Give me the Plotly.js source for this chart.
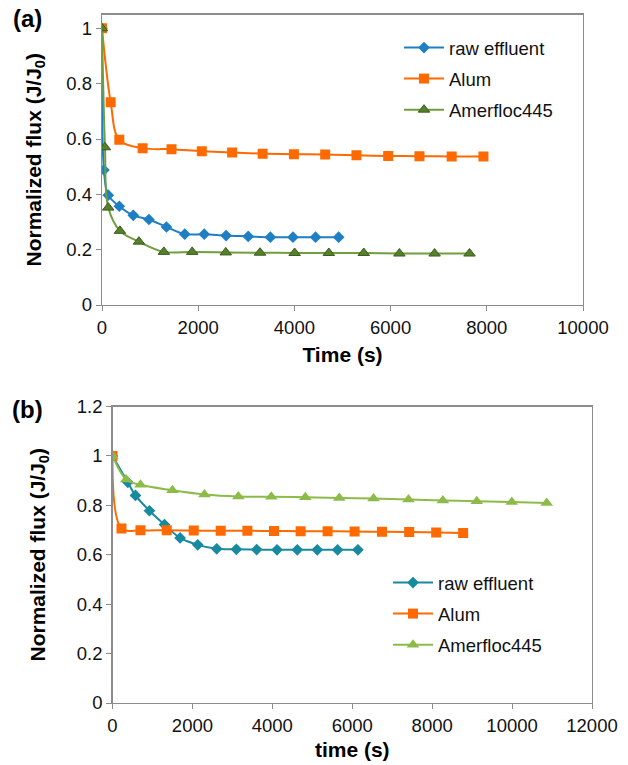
<!DOCTYPE html>
<html>
<head>
<meta charset="utf-8">
<script src="https://cdn.plot.ly/plotly-3.0.1.min.js"></script>
<style>html,body{margin:0;padding:0;background:#fff}#chart{width:628px;height:765px}</style>
</head>
<body>
<div id="chart"></div>
<script>
// Panel (a)
const timeA_raw = [0, 41, 130, 360, 650, 975, 1340, 1720, 2125, 2580, 3040, 3500, 3970, 4440, 4920];
const fluxA_raw = [1, 0.488, 0.397, 0.357, 0.324, 0.309, 0.282, 0.256, 0.256, 0.251, 0.248, 0.245, 0.245, 0.245, 0.245];
const timeA_alum = [0, 180, 360, 845, 1445, 2075, 2705, 3340, 3990, 4640, 5290, 5950, 6600, 7270, 7930];
const fluxA_alum = [1, 0.733, 0.597, 0.567, 0.563, 0.556, 0.551, 0.547, 0.545, 0.544, 0.541, 0.539, 0.538, 0.537, 0.537];
const timeA_amer = [0, 62, 130, 373, 768, 1286, 1875, 2573, 3285, 4005, 4716, 5442, 6183, 6915, 7641];
const fluxA_amer = [1, 0.570, 0.352, 0.268, 0.229, 0.192, 0.192, 0.190, 0.189, 0.188, 0.188, 0.188, 0.186, 0.186, 0.186];
// Panel (b)
const timeB_raw = [0, 383, 575, 925, 1300, 1692, 2133, 2608, 3100, 3608, 4117, 4625, 5125, 5633, 6142];
const fluxB_raw = [1, 0.893, 0.840, 0.778, 0.722, 0.668, 0.640, 0.624, 0.622, 0.621, 0.620, 0.620, 0.620, 0.620, 0.620];
const timeB_alum = [0, 225, 700, 1358, 2033, 2708, 3375, 4042, 4708, 5383, 6058, 6745, 7425, 8100, 8775];
const fluxB_alum = [1, 0.706, 0.699, 0.699, 0.698, 0.697, 0.697, 0.696, 0.695, 0.695, 0.694, 0.693, 0.692, 0.690, 0.688];
const timeB_amer = [0, 342, 700, 1500, 2300, 3150, 3975, 4825, 5675, 6533, 7408, 8267, 9117, 9992, 10867];
const fluxB_amer = [1, 0.905, 0.883, 0.861, 0.844, 0.836, 0.835, 0.833, 0.830, 0.828, 0.824, 0.820, 0.817, 0.813, 0.809];

const seriesNames = ['raw effluent', 'Alum', 'Amerfloc445'];
const panelLabels = ['(a)', '(b)'];
const xTitles = ['Time (s)', 'time (s)'];
const yTitle = 'Normalized flux (J/J<sub>0</sub>)';
const yTickVals = [0, 0.2, 0.4, 0.6, 0.8, 1, 1.2];
const yTickText = ['0', '0.2', '0.4', '0.6', '0.8', '1', '1.2'];

const FONT = 'Liberation Sans, Arial, sans-serif';
const AX = '#8c8c8c';
const TICKSIZE = 18.5;

function tr(x, y, name, color, sym, size, xa, ya, leg, mcolor, mline) {
  return {
    x: x, y: y, name: name, type: 'scatter', mode: 'lines+markers',
    xaxis: xa, yaxis: ya, legend: leg, legendgroup: leg + name,
    line: {color: color, width: 2, shape: 'spline', smoothing: 1},
    marker: {symbol: sym, size: size, color: mcolor || color,
             line: {color: mline || (mcolor || color), width: mline ? 1 : 0}}
  };
}

const data = [
  tr(timeA_raw, fluxA_raw, seriesNames[0], '#1f7fc4', 'diamond', 9, 'x', 'y', 'legend'),
  tr(timeA_alum, fluxA_alum, seriesNames[1], '#ff6a00', 'square', 10, 'x', 'y', 'legend'),
  tr(timeA_amer, fluxA_amer, seriesNames[2], '#6f9e3c', 'triangle-up', 10, 'x', 'y', 'legend', '#55812b', '#3b5c1c'),
  tr(timeB_raw, fluxB_raw, seriesNames[0], '#178a9f', 'diamond', 9, 'x2', 'y2', 'legend2'),
  tr(timeB_alum, fluxB_alum, seriesNames[1], '#ff6a00', 'square', 10, 'x2', 'y2', 'legend2'),
  tr(timeB_amer, fluxB_amer, seriesNames[2], '#8dbb4a', 'triangle-up', 11, 'x2', 'y2', 'legend2')
];

function xax(anchor, domain, range, title, standoff) {
  return {
    anchor: anchor, domain: domain, range: range, dtick: 2000, tick0: 0, tickformat: 'd',
    showline: true, linecolor: AX, linewidth: 1.3, mirror: true,
    ticks: 'outside', ticklen: 5, tickcolor: AX, showgrid: false, zeroline: false,
    tickfont: {family: FONT, size: TICKSIZE, color: '#111'},
    title: {text: '<b>' + title + '</b>', font: {family: FONT, size: 21, color: '#000'}, standoff: standoff},
    automargin: false
  };
}
function yax(anchor, domain, range, standoff) {
  return {
    anchor: anchor, domain: domain, range: range, tickvals: yTickVals, ticktext: yTickText,
    showline: true, linecolor: AX, linewidth: 1.3, mirror: true,
    ticks: 'outside', ticklen: 5, tickcolor: AX, showgrid: false, zeroline: false,
    tickfont: {family: FONT, size: TICKSIZE, color: '#111'},
    title: {text: '<b>' + yTitle + '</b>', font: {family: FONT, size: 21, color: '#000'}, standoff: standoff},
    automargin: false
  };
}

const legendBase = {
  font: {family: FONT, size: 18.5, color: '#111'},
  bgcolor: 'rgba(0,0,0,0)', borderwidth: 0,
  xanchor: 'left', yanchor: 'top', tracegroupgap: 4, itemwidth: 40
};

const layout = {
  width: 628, height: 765,
  margin: {l: 0, r: 0, t: 0, b: 0},
  paper_bgcolor: '#fff', plot_bgcolor: '#fff',
  showlegend: true,
  xaxis: xax('y', [102/628, 583/628], [0, 10000], xTitles[0], 10),
  yaxis: yax('x', [1 - 305/765, 1 - 14.5/765], [0, 1.05], 19),
  xaxis2: xax('y2', [112.5/628, 592/628], [0, 12000], xTitles[1], 7),
  yaxis2: yax('x2', [1 - 703/765, 1 - 406.5/765], [0, 1.2], 25),
  legend: Object.assign({}, legendBase, {x: 399/628, y: 1 - 29/765}),
  legend2: Object.assign({}, legendBase, {x: 388/628, y: 1 - 564/765}),
  annotations: [
    {text: '<b>' + panelLabels[0] + '</b>', xref: 'paper', yref: 'paper', x: 27/628, y: 1 - 18/765,
     xanchor: 'center', yanchor: 'middle', showarrow: false, font: {family: FONT, size: 24, color: '#000'}},
    {text: '<b>' + panelLabels[1] + '</b>', xref: 'paper', yref: 'paper', x: 28/628, y: 1 - 409/765,
     xanchor: 'center', yanchor: 'middle', showarrow: false, font: {family: FONT, size: 24, color: '#000'}}
  ]
};

Plotly.newPlot('chart', data, layout, {staticPlot: true, displayModeBar: false});
</script>
</body>
</html>
